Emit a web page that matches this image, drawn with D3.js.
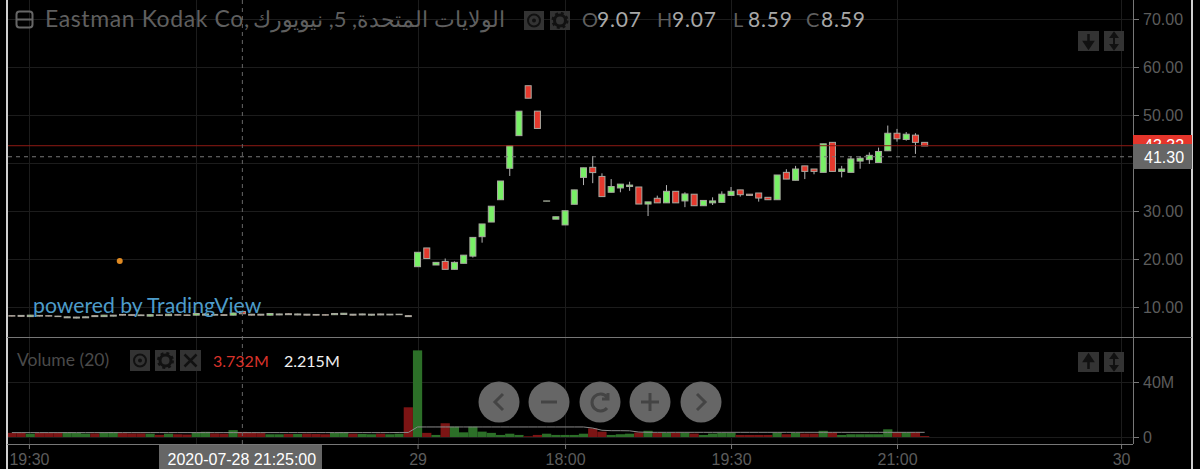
<!DOCTYPE html>
<html>
<head>
<meta charset="utf-8">
<title>Eastman Kodak Co</title>
<script src="https://cdn.jsdelivr.net/npm/d3@7"></script>
<style>
  html, body { margin: 0; padding: 0; background: #000; overflow: hidden; }
  svg { display: block; }
  .axis text { font-family: "Liberation Sans", Arial, sans-serif; font-size: 16px; fill: #5c5c5c; }
  .axis line, .axis path { stroke: #777; }
  .ui { font-family: "Lato", "Open Sans", sans-serif; }
</style>
</head>
<body>
<svg id="chart" width="1200" height="469"></svg>
<script>
// bars run from -44 to 55, bar 0 is the first one of the 29th
const firstBar = -44;

const opens = [
  8.2, 8.25, 8.0, 8.25, 8.2, 8.1, 7.75, 7.7, 7.75, 8.2, 8.0, 8.1, 8.45, 8.4, 8.35, 8.1, 8.35, 8.2, 8.4, 8.35, 8.3, 8.3,
  8.45, 8.4, 8.3, 9.07, 8.5, 8.5, 8.3, 8.35, 8.6, 8.35, 8.5, 8.45, 8.4, 8.4, 8.45, 8.5, 8.35, 8.3, 8.55, 8.35, 8.4, 8.2,
  18.4, 22.3, 18.75, 19.5, 17.85, 19.1, 20.6, 24.65, 27.7, 32.35, 38.9, 45.7, 56.1, 50.8, 32.05, 28.3, 27.1, 31.4, 37, 39.1,
  37.2, 33.9, 34.8, 35.1, 35, 31.45, 32.65, 31.7, 34.1, 32.1, 33.5, 31.1, 31.7, 31.8, 33.25, 34.4, 33.5, 33.75, 32.85, 32.35,
  38.05, 36.4, 39.4, 38.75, 38.05, 44.3, 38.25, 38.05, 40.4, 40.7, 40.1, 42.55, 46.2, 44.9, 45.8, 44.3
];
const highs = [
  8.25, 8.3, 8.35, 8.3, 8.25, 8.15, 8.0, 7.95, 8.0, 8.25, 8.35, 8.35, 8.5, 8.45, 8.4, 8.45, 8.4, 8.55, 8.45, 8.4, 8.7, 8.6,
  8.5, 8.45, 8.8, 9.07, 8.55, 8.55, 8.7, 8.6, 8.65, 8.6, 8.55, 8.5, 8.45, 8.7, 8.75, 8.55, 8.6, 8.55, 8.6, 8.55, 8.55, 8.25,
  21.4, 22.3, 19.3, 20.1, 19.5, 20.8, 24.5, 27.3, 31, 36.25, 43.6, 50.8, 56.1, 50.8, 32.1, 28.8, 30.05, 34.4, 39, 41.45,
  37.85, 36.65, 35.6, 36.1, 35, 31.9, 33.2, 35.4, 34.1, 33.9, 33.5, 32.2, 32.85, 34.1, 35, 34.4, 33.5, 33.75, 32.85, 37.5,
  38.7, 39.4, 39.4, 38.75, 44, 44.3, 39.4, 41.45, 41.45, 42.2, 43.2, 47.8, 47.1, 46.45, 46.2, 44.3
];
const lows = [
  8.05, 8.0, 7.95, 8.05, 8.05, 7.95, 7.7, 7.65, 7.7, 7.95, 7.95, 8.05, 8.25, 8.2, 8.15, 8.05, 8.2, 8.15, 8.25, 8.2, 8.25, 8.25,
  8.25, 8.2, 8.25, 8.59, 8.25, 8.25, 8.25, 8.3, 8.35, 8.3, 8.25, 8.25, 8.25, 8.35, 8.4, 8.25, 8.3, 8.25, 8.3, 8.3, 8.35, 7.95,
  18.4, 20.1, 18.75, 17.85, 17.85, 19.1, 20.3, 23.4, 27.7, 32.35, 37.3, 45.7, 53.5, 47.2, 32.05, 28.3, 27.1, 31.4, 35.4, 35.8,
  33, 33.9, 33.9, 34.2, 31.45, 28.95, 31.7, 31.7, 31.7, 30.8, 31.1, 31.1, 31.25, 31.8, 33.25, 33, 33.25, 31.95, 32.35, 32.35,
  36.65, 36.4, 36.65, 37.65, 38.05, 38.25, 37, 38.05, 38.8, 39.8, 40.1, 42.55, 44.45, 44.65, 41.9, 43.55
];
const closes = [
  8.1, 8.05, 8.3, 8.1, 8.1, 8.0, 7.95, 7.9, 7.95, 8.0, 8.3, 8.3, 8.3, 8.25, 8.2, 8.4, 8.25, 8.5, 8.3, 8.25, 8.65, 8.55,
  8.3, 8.25, 8.75, 8.59, 8.3, 8.3, 8.65, 8.55, 8.4, 8.55, 8.3, 8.3, 8.3, 8.65, 8.7, 8.3, 8.55, 8.5, 8.35, 8.5, 8.5, 8.0,
  21.4, 20.1, 19.3, 17.85, 19.3, 20.8, 24.5, 27.3, 31, 36.25, 43.6, 50.8, 53.5, 47.2, 32.1, 28.8, 30.05, 34.4, 39, 38,
  33, 35.1, 35.6, 35.4, 31.45, 31.9, 31.7, 34.1, 31.7, 33.55, 31.1, 32.2, 32.1, 33.5, 34.1, 33.4, 33.25, 32.7, 32.35, 37.5,
  36.65, 38.75, 38.25, 38.25, 44, 38.25, 38.75, 40.85, 41, 41.6, 42.4, 46.2, 45.05, 46, 44.3, 43.55
];
// volume in millions
const volumes = [
  3, 3, 2.4, 3, 3, 3, 3.5, 3, 2.5, 2.6, 3, 3.6, 2.8, 2.6, 2.6, 2.4, 1.6, 2.4, 2, 1.8, 3.2, 3.8,
  2.6, 2.4, 5, 3.732, 3.2, 2.8, 2, 2, 2.2, 2.2, 2.4, 2.2, 2, 3, 3.6, 2.4, 2.2, 2, 2.4, 2, 2.4, 21.6,
  63, 3, 1.5, 10, 7.5, 3.4, 7.5, 3.9, 3, 1.5, 2.4, 1.5, 0.5, 1.5, 2.4, 1.5, 1.5, 1.5, 2.4, 6.3,
  3.9, 1.5, 2, 2.4, 3.3, 4.5, 3, 3, 3, 3, 2.5, 1.5, 2.5, 3, 3, 1.5, 1.5, 1.5, 1.5, 3.2,
  2, 3, 2.5, 2.5, 4.5, 3.3, 1.5, 2, 2, 2, 2, 5.6, 3.4, 3.4, 3.4, 0.7
];
const volumeAverage = [
  3.2, 3.2, 3.2, 3.2, 3.2, 3.2, 3.2, 3.2, 3.2, 3.2, 3.2, 3.2, 3.2, 3.2, 3.2, 3.2, 3.2, 3.2, 3.2, 3.2, 3.2, 3.2,
  3.2, 3.2, 3.2, 3.2, 3.2, 3.2, 3.2, 3.2, 3.2, 3.2, 3.2, 3.2, 3.2, 3.2, 3.2, 3.2, 3.2, 3.2, 3.2, 3.2, 3.3, 3.3,
  7.3, 7.3, 7.3, 7.3, 7.3, 7.3, 7.3, 7.3, 7.3, 7.3, 7.3, 7.3, 7.3, 7.3, 7.3, 7.3, 7.3, 7.3, 7.3, 6.5,
  4.9, 4.6, 4.6, 4.5, 3.6, 3.4, 3.4, 3.4, 3.4, 3.4, 3.4, 3.4, 3.4, 3.4, 3.4, 3.4, 3.4, 3.4, 3.4, 3.4,
  3.4, 3.4, 3.4, 3.4, 3.4, 3.4, 3.4, 3.4, 3.4, 3.4, 3.4, 3.4, 3.4, 3.4, 3.4, 3.4
];

const priceTicks = [10, 20, 30, 40, 50, 60, 70];
const priceLabelTicks = [10, 20, 30, 50, 60, 70]; // 40.00 sits under the price labels
const volumeTicks = [0, 40];
const timeTicks = [-42.15, -24, 0, 16, 34, 52, 76.3];
const timeTickLabels = ['19:30', '', '29', '18:00', '19:30', '21:00', '30']; // 21:00 hidden by the date label
const lastPrice = 43.6;
const lastPriceLabel = '43.32';
const crosshairBar = -19;
const crosshairPrice = 41.3;
const crosshairLabel = '41.30';
const crosshairDate = '2020-07-28 21:25:00';
const orangeMark = [-32.3, 19.6];

const bars = opens.map((o, i) => ({
  bar: firstBar + i, open: o, high: highs[i], low: lows[i], close: closes[i],
  volume: volumes[i], average: volumeAverage[i]
}));

const svg = d3.select('#chart');
const axisX = 1133, rightEdge = 1192, leftEdge = 8, timeAxisY = 444, paneY = 337;

const xScale = d3.scaleLinear().domain([-42, 52]).range([30.3, 897]);
const yScale = d3.scaleLinear().domain([10, 70]).range([307, 19]);
const volScale = d3.scaleLinear().domain([0, 40]).range([437, 382]);
const step = xScale(1) - xScale(0);

svg.append('rect').attr('width', 1200).attr('height', 469).attr('fill', '#000');

// grid
const grid = svg.append('g').attr('stroke', '#1c1c1c').attr('stroke-width', 1);
grid.selectAll('.gx').data(timeTicks).join('line')
  .attr('x1', d => Math.round(xScale(d)) + 0.5).attr('x2', d => Math.round(xScale(d)) + 0.5)
  .attr('y1', 0).attr('y2', timeAxisY);
grid.selectAll('.gy').data(priceTicks).join('line')
  .attr('x1', leftEdge).attr('x2', axisX)
  .attr('y1', d => Math.round(yScale(d)) + 0.5).attr('y2', d => Math.round(yScale(d)) + 0.5);
grid.selectAll('.gv').data(volumeTicks).join('line')
  .attr('x1', leftEdge).attr('x2', axisX)
  .attr('y1', d => Math.round(volScale(d)) + 0.5).attr('y2', d => Math.round(volScale(d)) + 0.5);

// volume bars
svg.append('g').selectAll('rect').data(bars).join('rect')
  .attr('x', d => xScale(d.bar) - step / 2)
  .attr('width', step)
  .attr('y', d => volScale(d.volume))
  .attr('height', d => volScale(0) - volScale(d.volume))
  .attr('fill', d => d.close >= d.open ? '#2c6f28' : '#7c1414');

svg.append('path').datum(bars)
  .attr('fill', 'none').attr('stroke', '#8a8a8a').attr('stroke-width', 1)
  .attr('d', d3.line().x(d => xScale(d.bar)).y(d => volScale(d.average)));

// candles
const candles = svg.append('g').selectAll('g').data(bars).join('g');
candles.append('line')
  .attr('x1', d => xScale(d.bar)).attr('x2', d => xScale(d.bar))
  .attr('y1', d => yScale(d.high)).attr('y2', d => yScale(d.low))
  .attr('stroke', '#b4b4b4').attr('stroke-width', 1);
candles.append('rect')
  .attr('x', d => xScale(d.bar) - 3)
  .attr('width', 6)
  .attr('y', d => yScale(Math.max(d.open, d.close)))
  .attr('height', d => Math.abs(yScale(d.open) - yScale(d.close)))
  .attr('fill', d => d.close >= d.open ? '#78f066' : '#e5392d')
  .attr('stroke', '#a9a9a0').attr('stroke-width', 1);

svg.append('circle')
  .attr('cx', xScale(orangeMark[0])).attr('cy', yScale(orangeMark[1]))
  .attr('r', 3).attr('fill', '#e08a22');

// last price and crosshair
svg.append('line')
  .attr('x1', leftEdge).attr('x2', axisX)
  .attr('y1', yScale(lastPrice)).attr('y2', yScale(lastPrice))
  .attr('stroke', '#8f1a14').attr('stroke-width', 1);
svg.append('line')
  .attr('x1', leftEdge).attr('x2', axisX)
  .attr('y1', yScale(crosshairPrice)).attr('y2', yScale(crosshairPrice))
  .attr('stroke', '#777').attr('stroke-dasharray', '4 4');
svg.append('line')
  .attr('x1', xScale(crosshairBar)).attr('x2', xScale(crosshairBar))
  .attr('y1', 0).attr('y2', timeAxisY)
  .attr('stroke', '#666').attr('stroke-dasharray', '4 4');

// axes
const priceAxis = d3.axisRight(yScale).tickValues(priceLabelTicks)
  .tickFormat(d3.format('.2f')).tickSize(6).tickPadding(4);
svg.append('g').attr('class', 'axis').attr('transform', `translate(${axisX},0)`).call(priceAxis)
  .call(g => g.select('.domain').remove());

const volumeAxis = d3.axisRight(volScale).tickValues(volumeTicks)
  .tickFormat(d => d === 0 ? '0' : d + 'M').tickSize(6).tickPadding(4);
svg.append('g').attr('class', 'axis').attr('transform', `translate(${axisX},0)`).call(volumeAxis)
  .call(g => g.select('.domain').remove());

const timeAxis = d3.axisBottom(xScale).tickValues(timeTicks)
  .tickFormat((d, i) => timeTickLabels[i]).tickSize(5).tickPadding(5);
svg.append('g').attr('class', 'axis').attr('transform', `translate(0,${timeAxisY})`).call(timeAxis)
  .call(g => g.select('.domain').remove());

// frame
const frame = svg.append('g').attr('stroke-width', 1);
frame.append('line').attr('x1', 7).attr('x2', 7).attr('y1', 0).attr('y2', 469).attr('stroke', '#d0d0d0').attr('stroke-width', 2);
frame.append('line').attr('x1', rightEdge).attr('x2', rightEdge).attr('y1', 0).attr('y2', 469).attr('stroke', '#d0d0d0').attr('stroke-width', 2);
frame.append('line').attr('x1', axisX + 0.5).attr('x2', axisX + 0.5).attr('y1', 0).attr('y2', timeAxisY).attr('stroke', '#777');
frame.append('line').attr('x1', 7).attr('x2', axisX).attr('y1', timeAxisY + 0.5).attr('y2', timeAxisY + 0.5).attr('stroke', '#777');
frame.append('line').attr('x1', 7).attr('x2', rightEdge).attr('y1', paneY + 0.5).attr('y2', paneY + 0.5).attr('stroke', '#777');

// price labels on the axis
svg.append('rect').attr('x', axisX).attr('y', 135).attr('width', rightEdge - axisX).attr('height', 20).attr('fill', '#e5352b');
svg.append('text').attr('x', 1144).attr('y', 151).text(lastPriceLabel)
  .attr('font-family', 'Liberation Sans').attr('font-size', 16).attr('fill', '#fff');
svg.append('rect').attr('x', axisX).attr('y', 144).attr('width', rightEdge - axisX).attr('height', 25).attr('fill', '#666');
svg.append('text').attr('x', 1144).attr('y', 163).text(crosshairLabel)
  .attr('font-family', 'Liberation Sans').attr('font-size', 16).attr('fill', '#fff');

// date label
svg.append('rect').attr('x', 159).attr('y', timeAxisY + 1).attr('width', 163).attr('height', 24).attr('fill', '#666');
svg.append('text').attr('x', xScale(crosshairBar) - 0.5).attr('y', 465).attr('text-anchor', 'middle').text(crosshairDate)
  .attr('font-family', 'Liberation Sans').attr('font-size', 16).attr('fill', '#fff');

// legend
const legend = svg.append('g').attr('class', 'ui');
legend.append('rect').attr('x', 16.5).attr('y', 11.5).attr('width', 16).attr('height', 16).attr('rx', 3)
  .attr('fill', 'none').attr('stroke', '#666').attr('stroke-width', 2);
legend.append('line').attr('x1', 17).attr('x2', 32).attr('y1', 19.5).attr('y2', 19.5).attr('stroke', '#666').attr('stroke-width', 2);
legend.append('text').attr('x', 45).attr('y', 27).attr('font-size', 23).attr('letter-spacing', 0.6).attr('fill', '#5f5f5f')
  .text('Eastman Kodak Co,');
legend.append('text').attr('x', 253).attr('y', 27).attr('font-size', 22).attr('fill', '#5f5f5f')
  .text('الولايات المتحدة, 5, نيويورك');

const ohlcLabels = [['O', '9.07', 582], ['H', '9.07', 657], ['L', '8.59', 733], ['C', '8.59', 806]];
ohlcLabels.forEach(d => {
  legend.append('text').attr('x', d[2]).attr('y', 27).attr('font-size', 20).attr('fill', '#5f5f5f').text(d[0]);
  legend.append('text').attr('x', d[2] + 15).attr('y', 27).attr('font-size', 21).attr('letter-spacing', 0.8).attr('fill', '#a8a8a8').text(d[1]);
});

legend.append('text').attr('x', 17).attr('y', 366).attr('font-size', 17.5).attr('fill', '#4a4a4a').text('Volume (20)');
legend.append('text').attr('x', 213).attr('y', 367).attr('font-size', 16).attr('fill', '#d9332b').text('3.732M');
legend.append('text').attr('x', 284).attr('y', 367).attr('font-size', 16).attr('fill', '#f0f0f0').text('2.215M');
legend.append('text').attr('x', 33).attr('y', 313).attr('font-size', 21.2).attr('fill', '#4d9cca').text('powered by TradingView');

// little square icons
const iconBox = (x, y, w, h, kind) => {
  const g = svg.append('g').attr('transform', `translate(${x},${y})`);
  g.append('rect').attr('width', w).attr('height', h).attr('fill', '#333');
  const c = w / 2, m = h / 2;
  if (kind === 'eye') {
    g.append('circle').attr('cx', c).attr('cy', m).attr('r', 6).attr('fill', 'none').attr('stroke', '#111').attr('stroke-width', 2);
    g.append('circle').attr('cx', c).attr('cy', m).attr('r', 2).attr('fill', '#111');
  } else if (kind === 'gear') {
    g.append('circle').attr('cx', c).attr('cy', m).attr('r', 5.5).attr('fill', 'none').attr('stroke', '#111').attr('stroke-width', 3);
    g.append('circle').attr('cx', c).attr('cy', m).attr('r', 7.5).attr('fill', 'none').attr('stroke', '#111').attr('stroke-width', 2).attr('stroke-dasharray', '3 3');
  } else if (kind === 'x') {
    g.append('path').attr('d', `M${c - 6},${m - 6}L${c + 6},${m + 6}M${c + 6},${m - 6}L${c - 6},${m + 6}`).attr('stroke', '#111').attr('stroke-width', 2.5);
  } else if (kind === 'down') {
    g.append('path').attr('d', `M${c},${m - 7}V${m + 3}M${c - 4},${m + 1}L${c},${m + 7}L${c + 4},${m + 1}Z`).attr('stroke', '#111').attr('stroke-width', 2.5).attr('fill', '#111');
  } else if (kind === 'up') {
    g.append('path').attr('d', `M${c},${m + 7}V${m - 3}M${c - 4},${m - 1}L${c},${m - 7}L${c + 4},${m - 1}Z`).attr('stroke', '#111').attr('stroke-width', 2.5).attr('fill', '#111');
  } else {
    g.append('path').attr('d', `M${c - 3},${m - 4}L${c},${m - 8}L${c + 3},${m - 4}ZM${c - 3},${m + 4}L${c},${m + 8}L${c + 3},${m + 4}ZM${c},${m - 4}V${m + 4}`).attr('stroke', '#111').attr('stroke-width', 2).attr('fill', '#111');
  }
};
iconBox(524, 11, 20, 19, 'eye');
iconBox(550, 11, 20, 19, 'gear');
iconBox(130, 350, 20, 21, 'eye');
iconBox(155, 350, 21, 21, 'gear');
iconBox(180, 350, 21, 21, 'x');
iconBox(1078, 31, 21, 20, 'down');
iconBox(1104, 31, 20, 20, 'both');
iconBox(1078, 352, 21, 20, 'up');
iconBox(1104, 352, 20, 20, 'both');

// navigation buttons
const navButtons = [
  [499, 'M4,-8L-4,0L4,8'],
  [549, 'M-8,0H8'],
  [600, 'M7,-5A8.5,8.5 0 1 0 7,6M8,-9V-3H2'],
  [650, 'M-9,0H9M0,-9V9'],
  [701, 'M-4,-8L4,0L-4,8']
];
const nav = svg.append('g').selectAll('g').data(navButtons).join('g')
  .attr('transform', d => `translate(${d[0]},402)`);
nav.append('circle').attr('r', 20.5).attr('fill', '#666');
nav.append('path').attr('d', d => d[1]).attr('fill', 'none').attr('stroke', '#444').attr('stroke-width', 3);
</script>
</body>
</html>
